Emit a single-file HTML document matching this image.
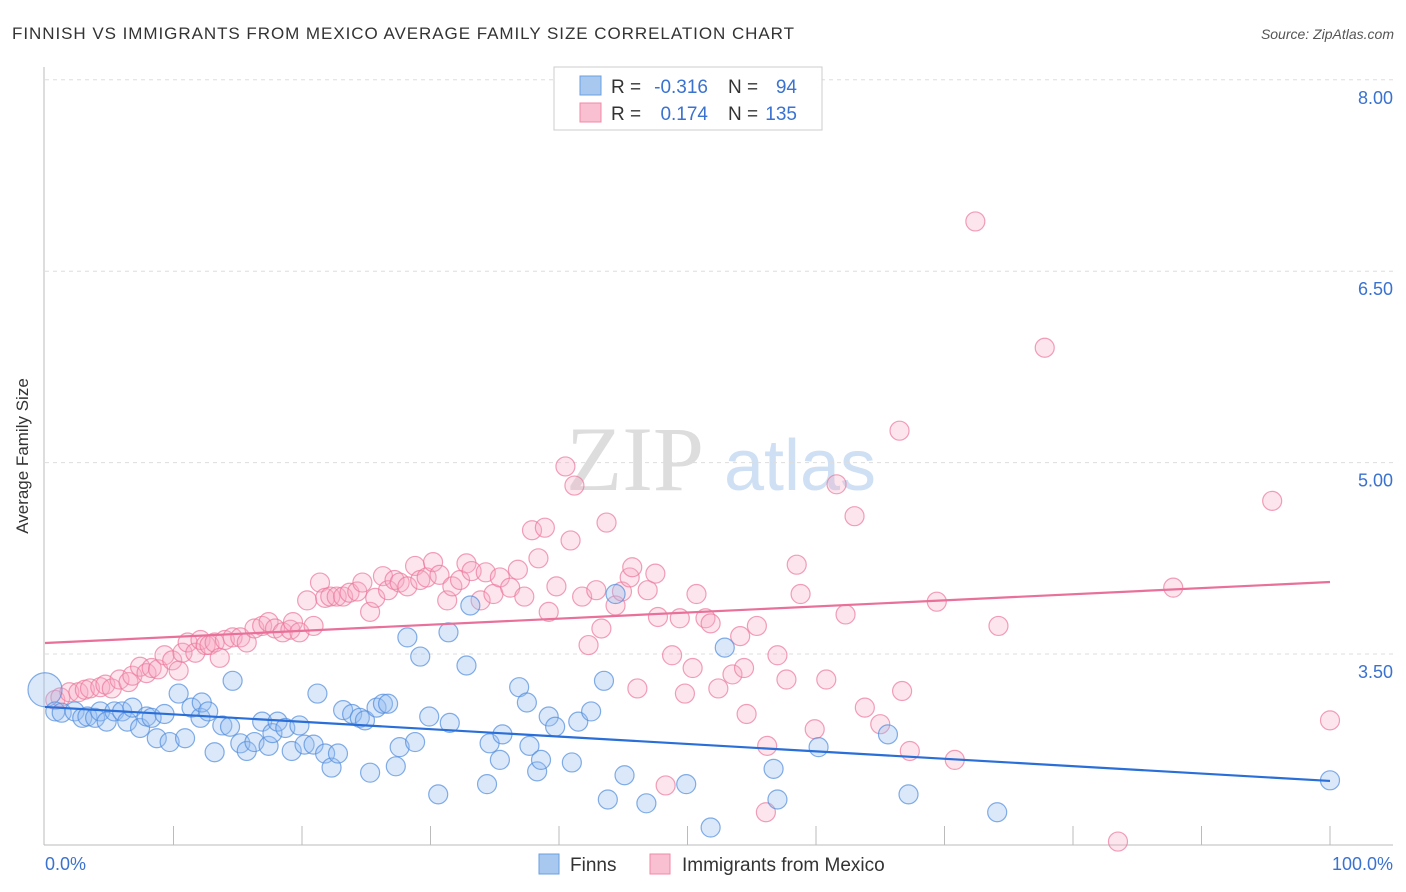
<!DOCTYPE html>
<html><head><meta charset="utf-8"><style>
body{margin:0;background:#fff;font-family:"Liberation Sans",sans-serif}
svg{display:block}
</style></head><body>
<svg width="1406" height="892" viewBox="0 0 1406 892" xmlns="http://www.w3.org/2000/svg">
<text x="12" y="39" font-size="17" fill="#333" textLength="782">FINNISH VS IMMIGRANTS FROM MEXICO AVERAGE FAMILY SIZE CORRELATION CHART</text>
<text x="1394" y="39" font-size="14" fill="#555" font-style="italic" text-anchor="end">Source: ZipAtlas.com</text>
<g>
<text x="635" y="490" font-size="92" fill="#ddd" font-family="Liberation Serif,serif" text-anchor="middle">ZIP</text>
<text x="800" y="490" font-size="72" fill="#cfe0f4" text-anchor="middle">atlas</text>
</g>
<g id="grid"></g>
<g id="axes"></g>
<g id="pts"></g>
<g id="trend"></g>
<text x="28" y="456" font-size="17" fill="#333" text-anchor="middle" transform="rotate(-90 28 456)">Average Family Size</text>
<g>
<rect x="554" y="67" width="268" height="63" fill="#fff" stroke="#ccc"/>
<rect x="580" y="76" width="21" height="19" fill="#a8c8f0" stroke="#6a9fe0"/>
<rect x="580" y="103" width="21" height="19" fill="#f8c0d0" stroke="#f08aa8"/>
<g font-size="19" fill="#333">
<text x="611" y="93">R =</text><text x="708" y="93" text-anchor="end" fill="#3a72d0">-0.316</text>
<text x="728" y="93">N =</text><text x="797" y="93" text-anchor="end" fill="#3a72d0">94</text>
<text x="611" y="120">R =</text><text x="708" y="120" text-anchor="end" fill="#3a72d0">0.174</text>
<text x="728" y="120">N =</text><text x="797" y="120" text-anchor="end" fill="#3a72d0">135</text>
</g>
</g>
<g>
<rect x="539" y="854" width="20" height="20" fill="#a8c8f0" stroke="#6a9fe0"/>
<text x="570" y="871" font-size="19" fill="#333">Finns</text>
<rect x="650" y="854" width="20" height="20" fill="#f8c0d0" stroke="#f08aa8"/>
<text x="682" y="871" font-size="19" fill="#333">Immigrants from Mexico</text>
</g>
</svg>
<script>
const yTicks=[3.5,5.0,6.5,8.0];
const yTickLabels=["3.50","5.00","6.50","8.00"];
const xTickLabels=["0.0%","100.0%"];
const finnsX=[0,0.8,1.3,2.3,2.9,3.3,3.9,4.3,4.8,5.4,6.0,6.4,6.8,7.4,7.9,8.3,8.7,9.3,9.7,10.4,10.9,11.4,12.1,12.2,12.7,13.2,13.8,14.4,14.6,15.2,15.7,16.3,16.9,17.4,17.7,18.1,18.7,19.2,19.8,20.2,20.9,21.2,21.8,22.3,22.8,23.2,23.9,24.5,24.9,25.3,25.8,26.3,26.7,27.3,27.6,28.2,28.8,29.2,29.9,30.6,31.5,31.4,32.8,33.1,34.4,34.6,35.4,35.6,36.9,37.5,37.7,38.3,38.6,39.2,39.7,41.0,41.5,42.5,43.5,43.8,44.4,45.1,46.8,49.9,51.8,52.9,56.7,57.0,60.2,65.6,67.2,74.1,100];
const finnsY=[3.22,3.05,3.04,3.05,3.0,3.01,3.0,3.05,2.97,3.05,3.05,2.97,3.08,2.92,3.01,3.0,2.84,3.03,2.81,3.19,2.84,3.08,3.0,3.12,3.05,2.73,2.94,2.93,3.29,2.8,2.74,2.81,2.97,2.78,2.88,2.97,2.92,2.74,2.94,2.79,2.79,3.19,2.72,2.61,2.72,3.06,3.03,3.0,2.98,2.57,3.08,3.11,3.11,2.62,2.77,3.63,2.81,3.48,3.01,2.4,2.96,3.67,3.41,3.88,2.48,2.8,2.67,2.87,3.24,3.12,2.78,2.58,2.67,3.01,2.93,2.65,2.97,3.05,3.29,2.36,3.97,2.55,2.33,2.48,2.14,3.55,2.6,2.36,2.77,2.87,2.4,2.26,2.51];
const mexX=[0.8,1.2,1.9,2.6,3.1,3.5,4.3,4.7,5.2,5.8,6.5,6.8,7.4,7.9,8.3,8.8,9.3,9.9,10.4,10.7,11.1,11.7,12.1,12.5,12.8,13.2,13.6,14.0,14.6,15.2,15.7,16.3,16.9,17.4,17.9,18.5,19.1,19.3,19.8,20.4,20.9,21.4,21.8,22.2,22.7,23.2,23.7,24.3,24.7,25.3,25.7,26.3,26.7,27.2,27.6,28.2,28.8,29.2,29.7,30.2,30.7,31.3,31.7,32.3,32.8,33.2,33.9,34.3,34.9,35.4,36.2,36.8,37.3,37.9,38.4,38.9,39.2,39.8,40.5,40.9,41.2,41.8,42.3,42.9,43.3,43.7,44.4,44.9,45.5,45.7,46.1,46.9,47.5,47.7,48.3,48.8,49.4,49.8,50.4,50.7,51.4,51.8,52.4,53.5,54.1,54.4,54.6,55.4,56.1,56.2,57.0,57.7,58.5,58.8,59.9,60.8,61.6,62.3,63.0,63.8,65.0,66.5,66.7,67.3,69.4,70.8,72.4,74.2,77.8,83.5,87.8,95.5,100];
const mexY=[3.14,3.16,3.2,3.2,3.22,3.23,3.24,3.26,3.23,3.3,3.28,3.33,3.4,3.35,3.39,3.38,3.49,3.45,3.37,3.51,3.59,3.51,3.61,3.57,3.57,3.59,3.47,3.61,3.63,3.63,3.59,3.7,3.72,3.75,3.7,3.67,3.69,3.75,3.67,3.92,3.72,4.06,3.94,3.95,3.95,3.95,3.98,3.99,4.06,3.83,3.94,4.11,4.0,4.08,4.06,4.03,4.19,4.08,4.1,4.22,4.12,3.92,4.03,4.08,4.21,4.15,3.92,4.14,3.97,4.1,4.02,4.16,3.95,4.47,4.25,4.49,3.83,4.03,4.97,4.39,4.82,3.95,3.57,4.0,3.7,4.53,3.88,3.99,4.1,4.18,3.23,4.0,4.13,3.79,2.47,3.49,3.78,3.19,3.39,3.97,3.78,3.74,3.23,3.34,3.64,3.39,3.03,3.72,2.26,2.78,3.49,3.3,4.2,3.97,2.91,3.3,4.83,3.81,4.58,3.08,2.95,5.25,3.21,2.74,3.91,2.67,6.89,3.72,5.9,2.03,4.02,4.7,2.98];
const finnsTrend=[3.085,2.505];
const mexTrend=[3.586,4.064];
const NS="http://www.w3.org/2000/svg";
const X0=45,X1=1330,YB=845;
const sx=v=>X0+(X1-X0)*v/100;
const sy=v=>654-(v-3.5)*127.6;
function mk(t,a,p){const e=document.createElementNS(NS,t);for(const k in a)e.setAttribute(k,a[k]);p.appendChild(e);return e;}
const grid=document.getElementById('grid'),axes=document.getElementById('axes'),pts=document.getElementById('pts'),trend=document.getElementById('trend');
yTicks.forEach((v,i)=>{
 const l=mk('line',{x1:X0,x2:1393,y1:sy(v),y2:sy(v),stroke:'#ddd','stroke-dasharray':'4,4'},grid);
 
 
 const t=mk('text',{x:1393,y:sy(v)+24,'font-size':18,fill:'#3a72d0','text-anchor':'end'},axes);
 t.textContent=yTickLabels[i];
 
 
});
mk('line',{x1:X0-1,x2:X0-1,y1:67,y2:YB,stroke:'#bbb'},axes);
mk('line',{x1:X0-1,x2:1393,y1:YB,y2:YB,stroke:'#bbb'},axes);
for(let i=1;i<=10;i++){const tk=mk('line',{x1:sx(i*10),x2:sx(i*10),y1:826,y2:YB,stroke:'#bbb'},axes);
 
 }
const xl0=mk('text',{x:45,y:870,'font-size':18,fill:'#3a72d0'},axes);xl0.textContent=xTickLabels[0];


const xl1=mk('text',{x:1393,y:870,'font-size':18,fill:'#3a72d0','text-anchor':'end'},axes);xl1.textContent=xTickLabels[1];


mexX.forEach((x,i)=>{const c=mk('circle',{cx:sx(x),cy:sy(mexY[i]),r:9.5,fill:'rgba(248,170,195,0.3)',stroke:'rgba(235,120,155,0.7)','stroke-width':1.2},pts);
 
 });
finnsX.forEach((x,i)=>{const c=mk('circle',{cx:sx(x),cy:sy(finnsY[i]),r:i===0?17:9.5,fill:'rgba(150,190,240,0.35)',stroke:'rgba(80,140,220,0.7)','stroke-width':1.2},pts);
 
 });
const t1=mk('line',{x1:sx(0),x2:sx(100),y1:sy(finnsTrend[0]),y2:sy(finnsTrend[1]),stroke:'#2a6ed8','stroke-width':2.2},trend);


const t2=mk('line',{x1:sx(0),x2:sx(100),y1:sy(mexTrend[0]),y2:sy(mexTrend[1]),stroke:'#e8709a','stroke-width':2.2},trend);


</script>
</body></html>
